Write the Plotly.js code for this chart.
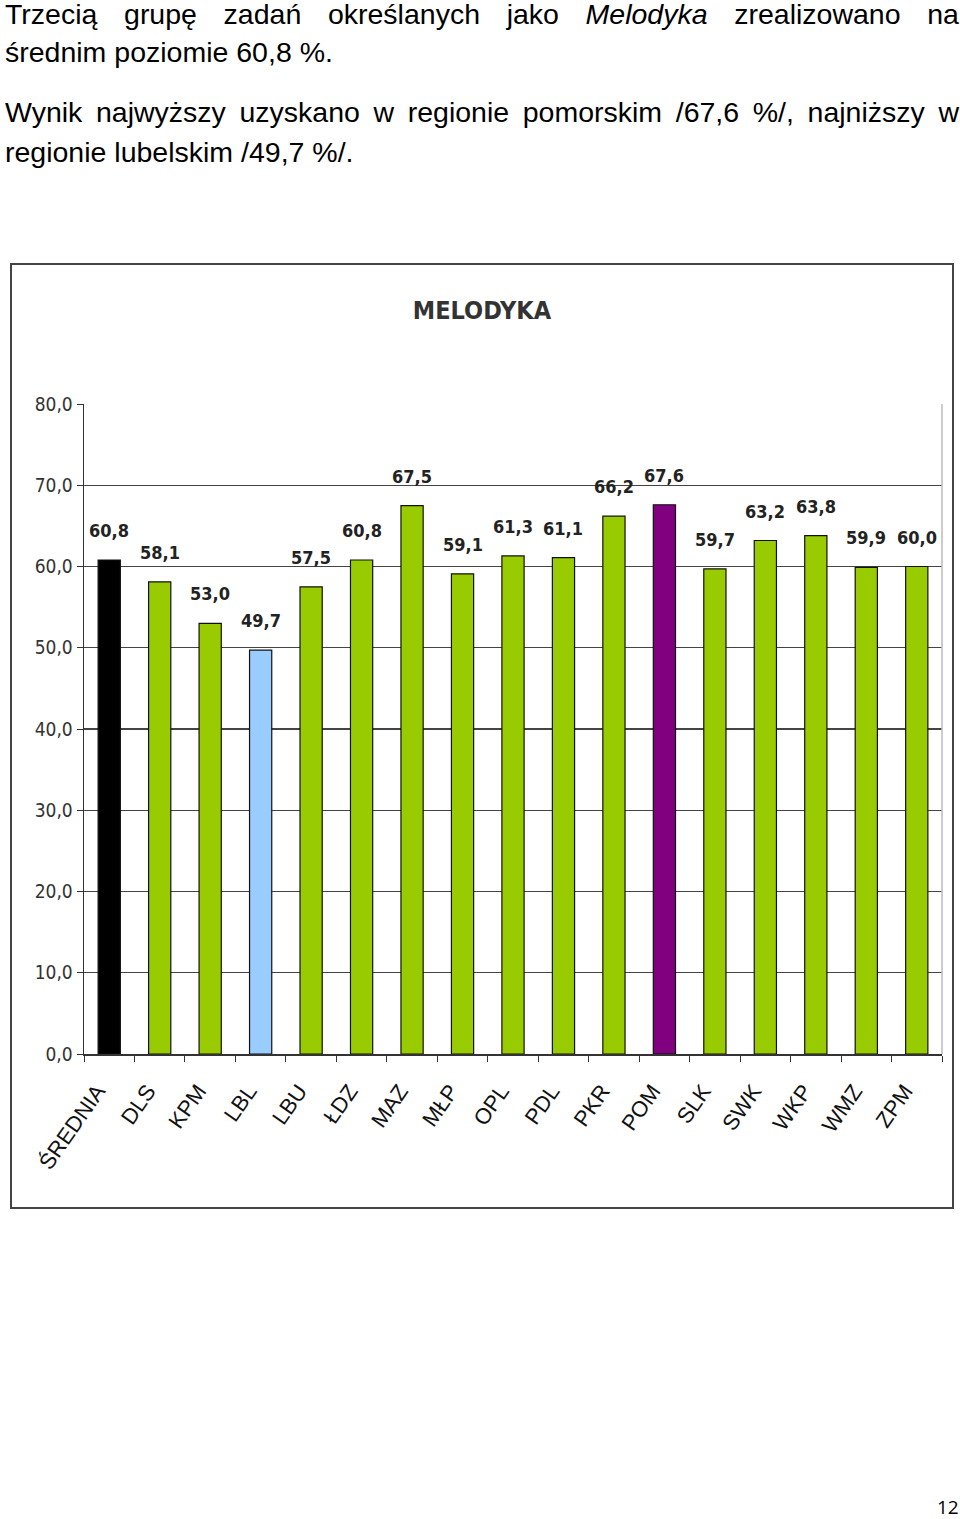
<!DOCTYPE html>
<html>
<head>
<meta charset="utf-8">
<script src="https://cdn.plot.ly/plotly-3.0.1.min.js"></script>
<style>
  html, body { margin: 0; padding: 0; background: #fff; }
  body { width: 960px; height: 1519px; position: relative; overflow: hidden;
         font-family: "Liberation Sans", Arial, sans-serif; color: #000; }
  .line { position: absolute; left: 5px; width: 954px; font-size: 28.5px; line-height: 34px; white-space: nowrap; }
  .just { display: flex; justify-content: space-between; }
  #chart { position: absolute; left: 10px; top: 263px; width: 940px; height: 942px;
           border: 2px solid #444; }
  #pg { position: absolute; left: 937px; top: 1494px; font-family: "Open Sans", sans-serif; font-size: 19px; }
</style>
</head>
<body>
<div class="line just" style="top:-3px"><span>Trzecią</span><span>grupę</span><span>zadań</span><span>określanych</span><span>jako</span><span><i>Melodyka</i></span><span>zrealizowano</span><span>na</span></div>
<div class="line" style="top:35px">średnim poziomie 60,8 %.</div>
<div class="line just" style="top:95px"><span>Wynik</span><span>najwyższy</span><span>uzyskano</span><span>w</span><span>regionie</span><span>pomorskim</span><span>/67,6</span><span>%/,</span><span>najniższy</span><span>w</span></div>
<div class="line" style="top:135px">regionie lubelskim /49,7 %/.</div>
<div id="chart"></div>
<div id="pg">12</div>
<script>
const categories = ["ŚREDNIA","DLS","KPM","LBL","LBU","ŁDZ","MAZ","MŁP","OPL","PDL","PKR","POM","SLK","SWK","WKP","WMZ","ZPM"];
const values = [60.8,58.1,53.0,49.7,57.5,60.8,67.5,59.1,61.3,61.1,66.2,67.6,59.7,63.2,63.8,59.9,60.0];
const barColors = ["#000000","#99cc00","#99cc00","#99ccff","#99cc00","#99cc00","#99cc00","#99cc00","#99cc00","#99cc00","#99cc00","#800080","#99cc00","#99cc00","#99cc00","#99cc00","#99cc00"];
const yTicks = [0,10,20,30,40,50,60,70,80];
const yTickLabels = ["0,0","10,0","20,0","30,0","40,0","50,0","60,0","70,0","80,0"];
const chartTitle = "MELODYKA";

const fmt = v => v.toFixed(1).replace(".", ",");
const condensed = "DejaVu Sans Condensed, Liberation Sans Narrow, Arial";

const annotations = categories.map((c, i) => ({
  x: c, y: values[i], xref: "x", yref: "y",
  text: "<b>" + fmt(values[i]) + "</b>", showarrow: false,
  yanchor: "bottom", yshift: 17,
  font: {family: condensed, size: 18, color: "#222"}
}));

const trace = {
  type: "bar", x: categories, y: values,
  marker: {color: barColors, line: {color: "#111", width: 1.2}},
  hoverinfo: "x+y"
};

const layout = {
  width: 940, height: 942,
  margin: {l: 72, r: 10, t: 139, b: 153},
  paper_bgcolor: "#fff", plot_bgcolor: "#fff",
  title: {text: "<b>" + chartTitle + "</b>", x: 0.5, xanchor: "center", y: 1 - 45/942, yanchor: "middle",
          font: {family: condensed, size: 25, color: "#333"}},
  bargap: 0.56,
  showlegend: false,
  xaxis: {
    type: "category", tickson: "boundaries", ticks: "outside", ticklen: 6, tickcolor: "#333",
    showline: true, linecolor: "#333", linewidth: 1.5, tickangle: -55,
    ticklabelstandoff: 14, ticklabelshift: -12,
    tickfont: {family: "Liberation Sans, Arial", size: 22, color: "#111"},
    showgrid: false, fixedrange: true
  },
  yaxis: {
    range: [0, 80], tickvals: yTicks, ticktext: yTickLabels,
    ticks: "outside", ticklen: 6, tickcolor: "#333",
    showline: true, linecolor: "#333", linewidth: 1.5,
    showgrid: true, gridcolor: "#444", gridwidth: 1.2,
    zeroline: false,
    tickfont: {family: condensed, size: 19, color: "#333"},
    fixedrange: true
  },
  shapes: [{type: "line", xref: "paper", yref: "paper", x0: 1, x1: 1, y0: 0, y1: 1,
            line: {color: "#bbb", width: 1.5}}],
  annotations: annotations
};

Plotly.newPlot("chart", [trace], layout, {displayModeBar: false, staticPlot: true});
</script>
</body>
</html>
